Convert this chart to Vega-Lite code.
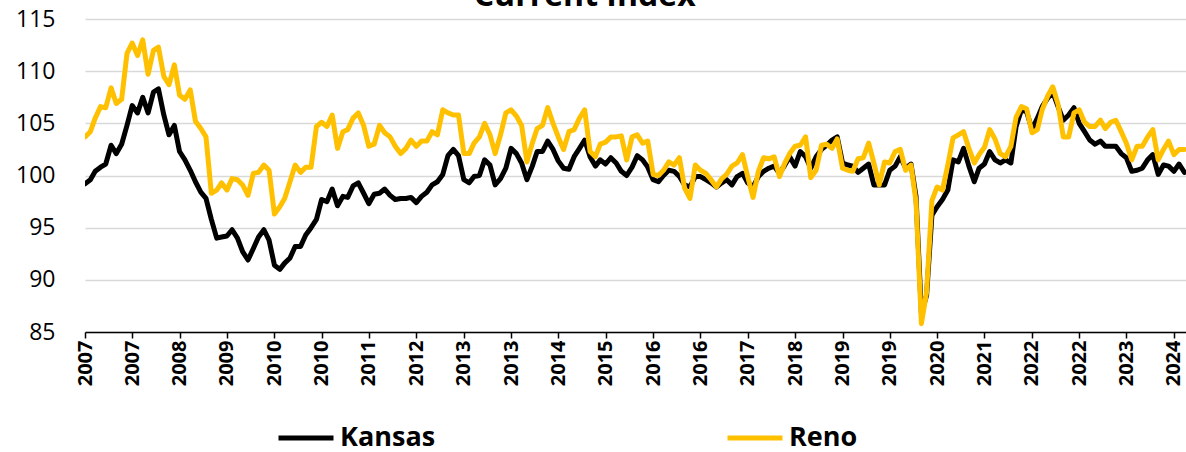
{
  "$schema": "https://vega.github.io/schema/vega-lite/v6.json",
  "autosize": {"type": "none"},
  "width": 1101,
  "height": 313,
  "padding": {"left": 85, "top": 19, "right": 0, "bottom": 120},
  "background": "white",
  "config": {"view": {"stroke": null}, "legend": {"symbolStrokeWidth": 5, "symbolOpacity": 1}},
  "data": {"values": [
{"d":"2007/01/01","Kansas":99.2,"Reno":103.7},{"d":"2007/02/01","Kansas":99.6,"Reno":104.2},{"d":"2007/03/01","Kansas":100.4,"Reno":105.5},{"d":"2007/04/01","Kansas":100.8,"Reno":106.6},{"d":"2007/05/01","Kansas":101.1,"Reno":106.5},{"d":"2007/06/01","Kansas":102.9,"Reno":108.4},{"d":"2007/07/01","Kansas":102.1,"Reno":106.9},{"d":"2007/08/01","Kansas":103.0,"Reno":107.3},{"d":"2007/09/01","Kansas":104.8,"Reno":111.7},{"d":"2007/10/01","Kansas":106.7,"Reno":112.7},{"d":"2007/11/01","Kansas":106.0,"Reno":111.5},{"d":"2007/12/01","Kansas":107.5,"Reno":113.0},
{"d":"2008/01/01","Kansas":106.0,"Reno":109.7},{"d":"2008/02/01","Kansas":108.0,"Reno":112.0},{"d":"2008/03/01","Kansas":108.3,"Reno":112.3},{"d":"2008/04/01","Kansas":105.8,"Reno":109.5},{"d":"2008/05/01","Kansas":103.9,"Reno":108.7},{"d":"2008/06/01","Kansas":104.8,"Reno":110.6},{"d":"2008/07/01","Kansas":102.3,"Reno":107.7},{"d":"2008/08/01","Kansas":101.5,"Reno":107.3},{"d":"2008/09/01","Kansas":100.5,"Reno":108.2},{"d":"2008/10/01","Kansas":99.4,"Reno":105.2},{"d":"2008/11/01","Kansas":98.4,"Reno":104.5},{"d":"2008/12/01","Kansas":97.8,"Reno":103.7},
{"d":"2009/01/01","Kansas":95.8,"Reno":98.3},{"d":"2009/02/01","Kansas":94.0,"Reno":98.6},{"d":"2009/03/01","Kansas":94.1,"Reno":99.3},{"d":"2009/04/01","Kansas":94.2,"Reno":98.6},{"d":"2009/05/01","Kansas":94.8,"Reno":99.7},{"d":"2009/06/01","Kansas":94.0,"Reno":99.6},{"d":"2009/07/01","Kansas":92.7,"Reno":99.1},{"d":"2009/08/01","Kansas":91.9,"Reno":98.1},{"d":"2009/09/01","Kansas":93.0,"Reno":100.2},{"d":"2009/10/01","Kansas":94.1,"Reno":100.3},{"d":"2009/11/01","Kansas":94.8,"Reno":101.0},{"d":"2009/12/01","Kansas":93.8,"Reno":100.5},
{"d":"2010/01/01","Kansas":91.4,"Reno":96.3},{"d":"2010/02/01","Kansas":91.0,"Reno":97.0},{"d":"2010/03/01","Kansas":91.6,"Reno":97.8},{"d":"2010/04/01","Kansas":92.1,"Reno":99.4},{"d":"2010/05/01","Kansas":93.2,"Reno":101.0},{"d":"2010/06/01","Kansas":93.2,"Reno":100.3},{"d":"2010/07/01","Kansas":94.3,"Reno":100.8},{"d":"2010/08/01","Kansas":95.0,"Reno":100.8},{"d":"2010/09/01","Kansas":95.8,"Reno":104.7},{"d":"2010/10/01","Kansas":97.7,"Reno":105.1},{"d":"2010/11/01","Kansas":97.5,"Reno":104.7},{"d":"2010/12/01","Kansas":98.7,"Reno":105.8},
{"d":"2011/01/01","Kansas":97.1,"Reno":102.6},{"d":"2011/02/01","Kansas":98.0,"Reno":104.2},{"d":"2011/03/01","Kansas":97.9,"Reno":104.4},{"d":"2011/04/01","Kansas":99.0,"Reno":105.5},{"d":"2011/05/01","Kansas":99.3,"Reno":106.0},{"d":"2011/06/01","Kansas":98.3,"Reno":104.8},{"d":"2011/07/01","Kansas":97.3,"Reno":102.8},{"d":"2011/08/01","Kansas":98.2,"Reno":103.0},{"d":"2011/09/01","Kansas":98.3,"Reno":104.8},{"d":"2011/10/01","Kansas":98.7,"Reno":104.1},{"d":"2011/11/01","Kansas":98.1,"Reno":103.7},{"d":"2011/12/01","Kansas":97.7,"Reno":102.8},
{"d":"2012/01/01","Kansas":97.8,"Reno":102.1},{"d":"2012/02/01","Kansas":97.8,"Reno":102.6},{"d":"2012/03/01","Kansas":97.9,"Reno":103.4},{"d":"2012/04/01","Kansas":97.4,"Reno":102.8},{"d":"2012/05/01","Kansas":98.0,"Reno":103.3},{"d":"2012/06/01","Kansas":98.4,"Reno":103.3},{"d":"2012/07/01","Kansas":99.1,"Reno":104.2},{"d":"2012/08/01","Kansas":99.4,"Reno":103.9},{"d":"2012/09/01","Kansas":100.1,"Reno":106.3},{"d":"2012/10/01","Kansas":101.9,"Reno":106.0},{"d":"2012/11/01","Kansas":102.5,"Reno":105.8},{"d":"2012/12/01","Kansas":101.9,"Reno":105.8},
{"d":"2013/01/01","Kansas":99.6,"Reno":102.1},{"d":"2013/02/01","Kansas":99.3,"Reno":102.1},{"d":"2013/03/01","Kansas":99.9,"Reno":103.1},{"d":"2013/04/01","Kansas":100.0,"Reno":103.7},{"d":"2013/05/01","Kansas":101.5,"Reno":105.0},{"d":"2013/06/01","Kansas":101.0,"Reno":103.9},{"d":"2013/07/01","Kansas":99.1,"Reno":102.1},{"d":"2013/08/01","Kansas":99.7,"Reno":103.9},{"d":"2013/09/01","Kansas":100.7,"Reno":106.0},{"d":"2013/10/01","Kansas":102.6,"Reno":106.3},{"d":"2013/11/01","Kansas":102.1,"Reno":105.7},{"d":"2013/12/01","Kansas":101.2,"Reno":104.8},
{"d":"2014/01/01","Kansas":99.6,"Reno":101.3},{"d":"2014/02/01","Kansas":100.9,"Reno":103.1},{"d":"2014/03/01","Kansas":102.3,"Reno":104.5},{"d":"2014/04/01","Kansas":102.3,"Reno":104.8},{"d":"2014/05/01","Kansas":103.3,"Reno":106.5},{"d":"2014/06/01","Kansas":102.5,"Reno":105.0},{"d":"2014/07/01","Kansas":101.4,"Reno":103.7},{"d":"2014/08/01","Kansas":100.7,"Reno":102.5},{"d":"2014/09/01","Kansas":100.6,"Reno":104.2},{"d":"2014/10/01","Kansas":101.8,"Reno":104.4},{"d":"2014/11/01","Kansas":102.6,"Reno":105.5},{"d":"2014/12/01","Kansas":103.4,"Reno":106.3},
{"d":"2015/01/01","Kansas":101.8,"Reno":102.3},{"d":"2015/02/01","Kansas":100.9,"Reno":101.8},{"d":"2015/03/01","Kansas":101.5,"Reno":103.0},{"d":"2015/04/01","Kansas":101.1,"Reno":103.2},{"d":"2015/05/01","Kansas":101.7,"Reno":103.7},{"d":"2015/06/01","Kansas":101.2,"Reno":103.7},{"d":"2015/07/01","Kansas":100.4,"Reno":103.8},{"d":"2015/08/01","Kansas":100.0,"Reno":101.5},{"d":"2015/09/01","Kansas":100.8,"Reno":103.7},{"d":"2015/10/01","Kansas":101.9,"Reno":103.9},{"d":"2015/11/01","Kansas":101.5,"Reno":103.1},{"d":"2015/12/01","Kansas":100.8,"Reno":103.3},
{"d":"2016/01/01","Kansas":99.6,"Reno":100.1},{"d":"2016/02/01","Kansas":99.4,"Reno":100.0},{"d":"2016/03/01","Kansas":100.0,"Reno":100.5},{"d":"2016/04/01","Kansas":100.5,"Reno":101.3},{"d":"2016/05/01","Kansas":100.4,"Reno":101.0},{"d":"2016/06/01","Kansas":99.9,"Reno":101.7},{"d":"2016/07/01","Kansas":99.1,"Reno":98.8},{"d":"2016/08/01","Kansas":98.9,"Reno":97.8},{"d":"2016/09/01","Kansas":99.9,"Reno":101.0},{"d":"2016/10/01","Kansas":99.9,"Reno":100.5},{"d":"2016/11/01","Kansas":99.6,"Reno":100.2},{"d":"2016/12/01","Kansas":99.3,"Reno":99.6},
{"d":"2017/01/01","Kansas":98.9,"Reno":98.9},{"d":"2017/02/01","Kansas":99.3,"Reno":99.7},{"d":"2017/03/01","Kansas":99.6,"Reno":100.1},{"d":"2017/04/01","Kansas":99.1,"Reno":100.9},{"d":"2017/05/01","Kansas":99.9,"Reno":101.2},{"d":"2017/06/01","Kansas":100.2,"Reno":102.0},{"d":"2017/07/01","Kansas":99.3,"Reno":99.9},{"d":"2017/08/01","Kansas":98.9,"Reno":97.9},{"d":"2017/09/01","Kansas":99.9,"Reno":100.4},{"d":"2017/10/01","Kansas":100.4,"Reno":101.7},{"d":"2017/11/01","Kansas":100.7,"Reno":101.6},{"d":"2017/12/01","Kansas":100.9,"Reno":101.8},
{"d":"2018/01/01","Kansas":100.2,"Reno":99.9},{"d":"2018/02/01","Kansas":101.0,"Reno":101.2},{"d":"2018/03/01","Kansas":101.8,"Reno":102.1},{"d":"2018/04/01","Kansas":100.9,"Reno":102.8},{"d":"2018/05/01","Kansas":102.3,"Reno":102.9},{"d":"2018/06/01","Kansas":101.8,"Reno":103.7},{"d":"2018/07/01","Kansas":100.7,"Reno":99.8},{"d":"2018/08/01","Kansas":101.8,"Reno":100.5},{"d":"2018/09/01","Kansas":102.5,"Reno":102.9},{"d":"2018/10/01","Kansas":102.9,"Reno":103.0},{"d":"2018/11/01","Kansas":103.4,"Reno":102.6},{"d":"2018/12/01","Kansas":103.7,"Reno":103.5},
{"d":"2019/01/01","Kansas":101.2,"Reno":100.7},{"d":"2019/02/01","Kansas":101.0,"Reno":100.5},{"d":"2019/03/01","Kansas":100.9,"Reno":100.4},{"d":"2019/04/01","Kansas":100.3,"Reno":101.6},{"d":"2019/05/01","Kansas":100.7,"Reno":101.7},{"d":"2019/06/01","Kansas":101.1,"Reno":103.1},{"d":"2019/07/01","Kansas":99.1,"Reno":101.2},{"d":"2019/08/01","Kansas":99.1,"Reno":99.1},{"d":"2019/09/01","Kansas":99.1,"Reno":101.3},{"d":"2019/10/01","Kansas":100.5,"Reno":101.2},{"d":"2019/11/01","Kansas":100.9,"Reno":102.3},{"d":"2019/12/01","Kansas":101.8,"Reno":102.5},
{"d":"2020/01/01","Kansas":100.7,"Reno":100.5},{"d":"2020/02/01","Kansas":101.1,"Reno":101.0},{"d":"2020/03/01","Kansas":98.0,"Reno":97.5},{"d":"2020/04/01","Kansas":86.8,"Reno":85.8},{"d":"2020/05/01","Kansas":88.5,"Reno":88.8},{"d":"2020/06/01","Kansas":96.2,"Reno":97.6},{"d":"2020/07/01","Kansas":97.0,"Reno":98.9},{"d":"2020/08/01","Kansas":97.7,"Reno":98.6},{"d":"2020/09/01","Kansas":98.6,"Reno":101.0},{"d":"2020/10/01","Kansas":101.5,"Reno":103.6},{"d":"2020/11/01","Kansas":101.3,"Reno":103.9},{"d":"2020/12/01","Kansas":102.6,"Reno":104.2},
{"d":"2021/01/01","Kansas":100.9,"Reno":102.6},{"d":"2021/02/01","Kansas":99.4,"Reno":101.2},{"d":"2021/03/01","Kansas":100.7,"Reno":102.0},{"d":"2021/04/01","Kansas":101.1,"Reno":102.7},{"d":"2021/05/01","Kansas":102.3,"Reno":104.4},{"d":"2021/06/01","Kansas":101.5,"Reno":103.5},{"d":"2021/07/01","Kansas":101.2,"Reno":102.1},{"d":"2021/08/01","Kansas":101.5,"Reno":101.8},{"d":"2021/09/01","Kansas":101.2,"Reno":102.8},{"d":"2021/10/01","Kansas":104.7,"Reno":105.6},{"d":"2021/11/01","Kansas":106.3,"Reno":106.6},{"d":"2021/12/01","Kansas":106.1,"Reno":106.4},
{"d":"2022/01/01","Kansas":104.4,"Reno":104.1},{"d":"2022/02/01","Kansas":105.5,"Reno":104.4},{"d":"2022/03/01","Kansas":106.6,"Reno":106.3},{"d":"2022/04/01","Kansas":107.4,"Reno":107.6},{"d":"2022/05/01","Kansas":108.0,"Reno":108.5},{"d":"2022/06/01","Kansas":106.6,"Reno":106.8},{"d":"2022/07/01","Kansas":105.3,"Reno":103.7},{"d":"2022/08/01","Kansas":105.8,"Reno":103.7},{"d":"2022/09/01","Kansas":106.5,"Reno":106.0},{"d":"2022/10/01","Kansas":105.0,"Reno":106.3},{"d":"2022/11/01","Kansas":104.2,"Reno":105.1},{"d":"2022/12/01","Kansas":103.4,"Reno":104.7},
{"d":"2023/01/01","Kansas":103.0,"Reno":104.7},{"d":"2023/02/01","Kansas":103.3,"Reno":105.3},{"d":"2023/03/01","Kansas":102.8,"Reno":104.5},{"d":"2023/04/01","Kansas":102.8,"Reno":105.1},{"d":"2023/05/01","Kansas":102.8,"Reno":105.3},{"d":"2023/06/01","Kansas":102.1,"Reno":104.2},{"d":"2023/07/01","Kansas":101.7,"Reno":103.1},{"d":"2023/08/01","Kansas":100.4,"Reno":101.5},{"d":"2023/09/01","Kansas":100.5,"Reno":102.8},{"d":"2023/10/01","Kansas":100.7,"Reno":102.8},{"d":"2023/11/01","Kansas":101.5,"Reno":103.7},{"d":"2023/12/01","Kansas":102.0,"Reno":104.4},
{"d":"2024/01/01","Kansas":100.1,"Reno":101.5},{"d":"2024/02/01","Kansas":101.0,"Reno":102.5},{"d":"2024/03/01","Kansas":100.9,"Reno":103.3},{"d":"2024/04/01","Kansas":100.4,"Reno":102.0},{"d":"2024/05/01","Kansas":101.1,"Reno":102.5},{"d":"2024/06/01","Kansas":100.3,"Reno":102.5}
  ]},
  "layer": [
    {
      "transform": [{"fold": ["Kansas", "Reno"], "as": ["series", "value"]}],
      "mark": {"type": "line", "strokeWidth": 5, "strokeJoin": "round", "strokeCap": "round", "clip": true},
      "encoding": {
        "x": {
          "field": "d", "type": "temporal", "title": null,
          "scale": {"domain": [{"year": 2007, "month": 1, "date": 1}, {"year": 2024, "month": 6, "date": 10}]},
          "axis": {
            "values": [
              {"year": 2007, "month": 1, "date": 1}, {"year": 2007, "month": 10, "date": 1}, {"year": 2008, "month": 7, "date": 1},
              {"year": 2009, "month": 4, "date": 1}, {"year": 2010, "month": 1, "date": 1}, {"year": 2010, "month": 10, "date": 1},
              {"year": 2011, "month": 7, "date": 1}, {"year": 2012, "month": 4, "date": 1}, {"year": 2013, "month": 1, "date": 1},
              {"year": 2013, "month": 10, "date": 1}, {"year": 2014, "month": 7, "date": 1}, {"year": 2015, "month": 4, "date": 1},
              {"year": 2016, "month": 1, "date": 1}, {"year": 2016, "month": 10, "date": 1}, {"year": 2017, "month": 7, "date": 1},
              {"year": 2018, "month": 4, "date": 1}, {"year": 2019, "month": 1, "date": 1}, {"year": 2019, "month": 10, "date": 1},
              {"year": 2020, "month": 7, "date": 1}, {"year": 2021, "month": 4, "date": 1}, {"year": 2022, "month": 1, "date": 1},
              {"year": 2022, "month": 10, "date": 1}, {"year": 2023, "month": 7, "date": 1}, {"year": 2024, "month": 4, "date": 1}
            ],
            "format": "%Y", "formatType": "time", "labelAngle": -90, "labelFont": "Open Sans", "labelFontSize": 20, "labelFontWeight": "bold",
            "labelColor": "#000000", "labelPadding": 2, "labelOverlap": false, "labelFlush": false, "labelBound": false,
            "grid": false, "domainColor": "#000000", "domainWidth": 1.5, "tickColor": "#000000", "tickWidth": 1.5, "tickSize": 6
          }
        },
        "y": {
          "field": "value", "type": "quantitative", "title": null,
          "scale": {"domain": [85, 115], "nice": false, "zero": false},
          "axis": {
            "values": [85, 90, 95, 100, 105, 110, 115], "domain": false, "ticks": false, "labelPadding": 30,
            "labelFont": "Open Sans", "labelFontSize": 23, "labelColor": "#000000",
            "gridColor": "#D9D9D9", "gridWidth": 1.5
          }
        },
        "color": {
          "field": "series", "type": "nominal", "title": null,
          "scale": {"domain": ["Kansas", "Reno"], "range": ["#000000", "#FFC000"]},
          "legend": {
            "orient": "none", "legendX": 191, "legendY": 389, "direction": "horizontal",
            "symbolType": "stroke", "symbolSize": 3025, "symbolStrokeWidth": 5, "symbolOpacity": 1,
            "labelFont": "Open Sans", "labelFontSize": 27, "labelFontWeight": "bold", "labelColor": "#000000",
            "labelOffset": 4, "columnPadding": 281, "padding": 0, "labelLimit": 300
          }
        }
      }
    },
    {
      "data": {"values": [{"title": "Current Index"}]},
      "mark": {"type": "text", "font": "Open Sans", "fontSize": 32, "fontWeight": "bold", "color": "#000000", "align": "center", "baseline": "alphabetic", "clip": false},
      "encoding": {
        "text": {"field": "title", "type": "nominal"},
        "x": {"datum": {"year": 2014, "month": 12, "date": 1}, "type": "temporal"},
        "y": {"datum": 116.25, "type": "quantitative"}
      }
    }
  ]
}
